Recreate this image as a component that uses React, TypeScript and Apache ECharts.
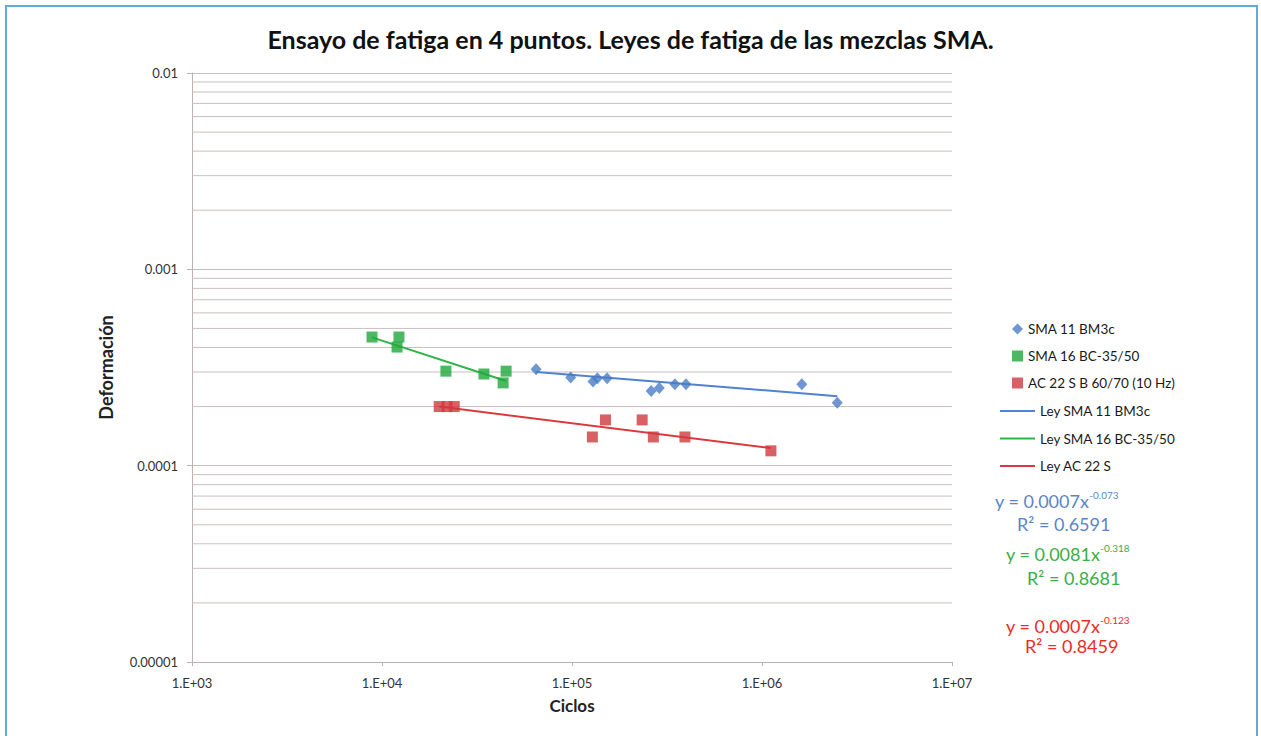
import React, { useEffect, useRef } from "react";
import * as echarts from "echarts";

const titleText = "Ensayo de fatiga en 4 puntos. Leyes de fatiga de las mezclas SMA.";
const xTickLabels = ["1.E+03", "1.E+04", "1.E+05", "1.E+06", "1.E+07"];
const yTickLabels = ["0.00001", "0.0001", "0.001", "0.01"];
const xMin = 1000;
const xMax = 10000000;
const yMin = 0.00001;
const yMax = 0.01;
const minorGridValues = [
  2e-5, 3e-5, 4e-5, 5e-5, 6e-5, 7e-5, 8e-5, 9e-5,
  2e-4, 3e-4, 4e-4, 5e-4, 6e-4, 7e-4, 8e-4, 9e-4,
  2e-3, 3e-3, 4e-3, 5e-3, 6e-3, 7e-3, 8e-3, 9e-3,
];

const sma11Name = "SMA 11 BM3c";
const sma16Name = "SMA 16 BC-35/50";
const ac22Name = "AC 22 S B 60/70 (10 Hz)";
const sma11LawName = "Ley SMA 11 BM3c";
const sma16LawName = "Ley SMA 16 BC-35/50";
const ac22LawName = "Ley AC 22 S";

const sma11Cycles = [64700, 98400, 129000, 136000, 153000, 261000, 288000, 348000, 398000, 1620000, 2490000];
const sma11Strain = [0.00031, 0.000281, 0.000268, 0.000279, 0.000279, 0.00024, 0.000249, 0.00026, 0.00026, 0.00026, 0.000209];

const sma16Cycles = [8860, 12280, 12000, 21700, 34400, 45000, 43400];
const sma16Strain = [0.000452, 0.000452, 0.000402, 0.000303, 0.000293, 0.000303, 0.000264];

const ac22Cycles = [20000, 22000, 24000, 128000, 150000, 234000, 268000, 393000, 1114000];
const ac22Strain = [0.0002, 0.0002, 0.0002, 0.00014, 0.000171, 0.000171, 0.00014, 0.00014, 0.000119];

const sma11LawCycles = [64700, 2490000];
const sma11LawStrain = [0.0003, 0.000226];
const sma16LawCycles = [8860, 45000];
const sma16LawStrain = [0.00045, 0.00027];
const ac22LawCycles = [20000, 1114000];
const ac22LawStrain = [0.0002, 0.000123];

const eqBlue = ["y = 0.0007x", "-0.073", "R\u00B2 = 0.6591"];
const eqGreen = ["y = 0.0081x", "-0.318", "R\u00B2 = 0.8681"];
const eqRed = ["y = 0.0007x", "-0.123", "R\u00B2 = 0.8459"];

const zip = (xs: number[], ys: number[]) => xs.map((x, i) => [x, ys[i]]);

const FONT = "Lato, 'Open Sans', sans-serif";
const GRID_COLOR = "#c9bfbe";
const AXIS_COLOR = "#bcb1b0";
const C_BLUE = "#4a7cc4";
const C_GREEN = "#1ea83a";
const C_RED = "#cf3a3f";
const L_BLUE = "#4f82cf";
const L_GREEN = "#2db449";
const L_RED = "#d93a3e";
const T_BLUE = "#5a86c8";
const T_GREEN = "#3aae47";
const T_RED = "#ee2b25";

function eqGraphic(lines: string[], color: string, left: number, top: number, rLeft: number, rTop: number) {
  return [
    {
      type: "text",
      left,
      top,
      style: {
        text: `{a|${lines[0]}}{s|${lines[1]}}`,
        rich: {
          a: { fontSize: 18, fill: color, fontFamily: FONT, lineHeight: 20, verticalAlign: "bottom" },
          s: { fontSize: 10, fill: color, fontFamily: FONT, lineHeight: 11, verticalAlign: "top" },
        },
      },
    },
    {
      type: "text",
      left: rLeft,
      top: rTop,
      style: { text: lines[2], fontSize: 18, lineHeight: 20, fill: color, fontFamily: FONT },
    },
  ];
}

export default function App() {
  const ref = useRef<HTMLDivElement>(null);
  useEffect(() => {
    if (!ref.current) return;
    const chart = echarts.init(ref.current, null, { renderer: "svg" });
    const gridSeries = minorGridValues.map((v) => ({
      name: "grid-" + v,
      type: "line",
      data: [
        [xMin, v],
        [xMax, v],
      ],
      symbol: "none",
      silent: true,
      z: 0,
      lineStyle: { color: GRID_COLOR, width: 1 },
      emphasis: { disabled: true },
    }));
    const option: any = {
      animation: false,
      backgroundColor: "#ffffff",
      textStyle: { fontFamily: FONT },
      title: {
        text: titleText,
        left: "center",
        top: 21,
        textStyle: { fontSize: 25, fontWeight: "bold", color: "#111", fontFamily: FONT },
      },
      grid: { left: 192, right: 309, top: 73, bottom: 74, containLabel: false },
      xAxis: {
        type: "log",
        logBase: 10,
        min: xMin,
        max: xMax,
        name: "Ciclos",
        nameLocation: "middle",
        nameGap: 35,
        nameTextStyle: { fontSize: 17, fontWeight: "bold", color: "#222", fontFamily: FONT },
        axisLine: { show: true, lineStyle: { color: AXIS_COLOR, width: 1 } },
        axisTick: { show: true, length: 4, lineStyle: { color: AXIS_COLOR } },
        axisLabel: {
          margin: 14,
          fontSize: 13,
          color: "#333",
          fontFamily: FONT,
          formatter: (v: number) => xTickLabels[Math.round(Math.log10(v)) - 3] ?? "",
        },
        splitLine: { show: false },
      },
      yAxis: {
        type: "log",
        logBase: 10,
        min: yMin,
        max: yMax,
        name: "Deformación",
        nameLocation: "middle",
        nameGap: 77,
        nameTextStyle: { fontSize: 18, fontWeight: "bold", color: "#222", fontFamily: FONT },
        axisLine: { show: true, lineStyle: { color: AXIS_COLOR, width: 1 } },
        axisTick: { show: true, length: 5, lineStyle: { color: AXIS_COLOR } },
        axisLabel: {
          margin: 14,
          fontSize: 13,
          color: "#333",
          fontFamily: FONT,
          formatter: (v: number) => yTickLabels[Math.round(Math.log10(v)) + 5] ?? "",
        },
        splitLine: { show: true, lineStyle: { color: GRID_COLOR, width: 1 } },
      },
      legend: [
        {
          orient: "vertical",
          left: 1007,
          top: 316,
          itemWidth: 11,
          itemHeight: 11,
          itemGap: 11,
          itemTextGap: 14,
          textStyle: { fontSize: 13.5, color: "#1a1a1a", fontFamily: FONT, lineHeight: 16 },
          data: [
            { name: sma11Name, icon: "diamond" },
            { name: sma16Name, icon: "rect" },
            { name: ac22Name, icon: "rect" },
          ],
          selectedMode: false,
        },
        {
          orient: "vertical",
          left: 995,
          top: 398,
          itemWidth: 35,
          itemHeight: 2,
          itemGap: 11.5,
          itemTextGap: 1,
          textStyle: { fontSize: 13.5, color: "#1a1a1a", fontFamily: FONT, lineHeight: 16 },
          data: [
            { name: sma11LawName, icon: "rect" },
            { name: sma16LawName, icon: "rect" },
            { name: ac22LawName, icon: "rect" },
          ],
          selectedMode: false,
        },
      ],
      graphic: [
        {
          type: "rect",
          shape: { x: 6, y: 6, width: 1251, height: 740 },
          style: { fill: "none", stroke: "#62acd2", lineWidth: 2 },
          silent: true,
        },
        ...eqGraphic(eqBlue, T_BLUE, 995, 490, 1017, 514),
        ...eqGraphic(eqGreen, T_GREEN, 1006, 543, 1027, 568),
        ...eqGraphic(eqRed, T_RED, 1006, 615, 1025, 636),
      ],
      series: [
        ...gridSeries,
        {
          name: sma11LawName,
          type: "line",
          data: zip(sma11LawCycles, sma11LawStrain),
          symbol: "none",
          lineStyle: { color: L_BLUE, width: 2 },
          itemStyle: { color: L_BLUE },
          z: 2,
        },
        {
          name: sma16LawName,
          type: "line",
          data: zip(sma16LawCycles, sma16LawStrain),
          symbol: "none",
          lineStyle: { color: L_GREEN, width: 2 },
          itemStyle: { color: L_GREEN },
          z: 2,
        },
        {
          name: ac22LawName,
          type: "line",
          data: zip(ac22LawCycles, ac22LawStrain),
          symbol: "none",
          lineStyle: { color: L_RED, width: 2 },
          itemStyle: { color: L_RED },
          z: 2,
        },
        {
          name: sma11Name,
          type: "scatter",
          data: zip(sma11Cycles, sma11Strain),
          symbol: "diamond",
          symbolSize: [11, 12],
          itemStyle: { color: C_BLUE },
          z: 3,
        },
        {
          name: sma16Name,
          type: "scatter",
          data: zip(sma16Cycles, sma16Strain),
          symbol: "rect",
          symbolSize: 11,
          itemStyle: { color: C_GREEN },
          z: 3,
        },
        {
          name: ac22Name,
          type: "scatter",
          data: zip(ac22Cycles, ac22Strain),
          symbol: "rect",
          symbolSize: 11,
          itemStyle: { color: C_RED },
          z: 3,
        },
      ],
    };
    chart.setOption(option);
    return () => chart.dispose();
  }, []);
  return (
    <div
      ref={ref}
      style={{ position: "fixed", left: 0, top: 0, width: 1261, height: 736, background: "#fff" }}
    />
  );
}
